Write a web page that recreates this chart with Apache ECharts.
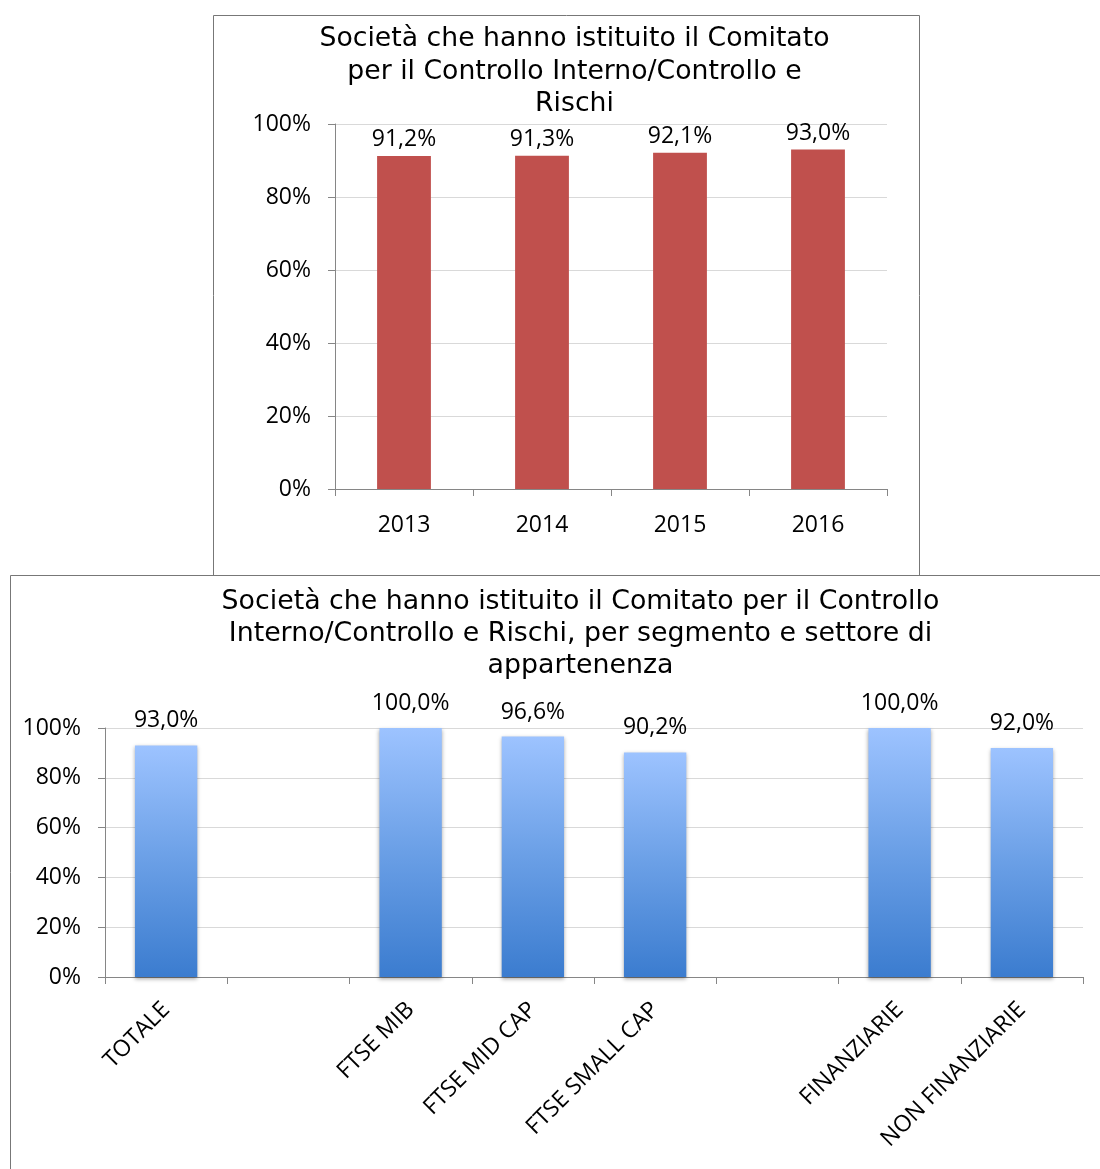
<!DOCTYPE html>
<html><head><meta charset="utf-8">
<script src="https://cdn.jsdelivr.net/npm/echarts@6/dist/echarts.min.js"></script>
<style>html,body{margin:0;padding:0;background:#fff}#c{width:1100px;height:1169px}</style>
</head><body><div id="c"></div>
<script>
const titleTop = 'Società che hanno istituito il Comitato\nper il Controllo Interno/Controllo e\nRischi';
const titleBottom = 'Società che hanno istituito il Comitato per il Controllo\nInterno/Controllo e Rischi, per segmento e settore di\nappartenenza';
const years = ['2013', '2014', '2015', '2016'];
const yearValues = [91.2, 91.3, 92.1, 93.0];
const segments = ['TOTALE', '', 'FTSE MIB', 'FTSE MID CAP', 'FTSE SMALL CAP', '', 'FINANZIARIE', 'NON FINANZIARIE'];
const segmentValues = [93.0, null, 100.0, 96.6, 90.2, null, 100.0, 92.0];
const yTicks = [0, 20, 40, 60, 80, 100];

const LBL = 'Open Sans';
const fmtPct = v => v.toFixed(1).replace('.', ',') + '%';
const axisGray = '#868686';

const chart = echarts.init(document.getElementById('c'), null, {renderer: 'canvas'});
const yAxisBase = {
  type: 'value', min: 0, max: 100, interval: 20,
  axisLine: {show: true, lineStyle: {color: axisGray}},
  axisTick: {show: true, length: 7, lineStyle: {color: axisGray}},
  splitLine: {show: true, lineStyle: {color: '#d9d9d9'}},
  axisLabel: {formatter: v => v + '%', fontFamily: LBL, fontSize: 23, color: '#000', margin: 24}
};
chart.setOption({
  animation: false,
  graphic: [
    {type: 'rect', shape: {x: 213.5, y: 15.5, width: 706, height: 560}, style: {fill: 'none', stroke: '#777', lineWidth: 1}, z: -1},
    {type: 'rect', shape: {x: 10.5, y: 575.5, width: 1100, height: 600}, style: {fill: 'none', stroke: '#777', lineWidth: 1}, z: -1},
    {type: 'text', x: 574.5, y: 23, style: {text: titleTop, align: 'center', verticalAlign: 'top',
      font: 'normal 26.7px "DejaVu Sans"', fill: '#000', lineHeight: 32.5}},
    {type: 'text', x: 580.5, y: 586, style: {text: titleBottom, align: 'center', verticalAlign: 'top',
      font: 'normal 26.8px "DejaVu Sans"', fill: '#000', lineHeight: 32}}
  ],
  grid: [
    {left: 335, right: 213, top: 124, bottom: 680},
    {left: 105, right: 17, top: 728, bottom: 192}
  ],
  xAxis: [
    {type: 'category', gridIndex: 0, data: years,
     axisLine: {lineStyle: {color: axisGray}},
     axisTick: {show: true, length: 7, lineStyle: {color: axisGray}},
     axisLabel: {fontFamily: LBL, fontSize: 23, color: '#000', margin: 25}},
    {type: 'category', gridIndex: 1, data: segments,
     axisLine: {lineStyle: {color: axisGray}},
     axisTick: {show: true, length: 7, interval: 0, lineStyle: {color: axisGray}},
     axisLabel: {fontFamily: LBL, fontSize: 23, color: '#000', margin: 29, rotate: 45, interval: 0}}
  ],
  yAxis: [
    Object.assign({gridIndex: 0}, yAxisBase),
    Object.assign({gridIndex: 1}, yAxisBase)
  ],
  series: [
    {type: 'bar', xAxisIndex: 0, yAxisIndex: 0, data: yearValues, barWidth: '39%',
     itemStyle: {color: '#C0504D'},
     label: {show: true, position: 'top', distance: 5, formatter: p => fmtPct(p.value),
             fontFamily: LBL, fontSize: 23, color: '#000'}},
    {type: 'bar', xAxisIndex: 1, yAxisIndex: 1, data: segmentValues, barWidth: '51%',
     itemStyle: {
       color: new echarts.graphic.LinearGradient(0, 0, 0, 1, [
         {offset: 0, color: '#9DC3FF'}, {offset: 0.5, color: '#6A9FE6'}, {offset: 1, color: '#3B7CCF'}]),
       shadowColor: 'rgba(0,0,0,0.35)', shadowBlur: 4, shadowOffsetY: 2
     },
     label: {show: true, position: 'top', distance: 13, formatter: p => p.value == null ? '' : fmtPct(p.value),
             fontFamily: LBL, fontSize: 23, color: '#000'}}
  ]
});
</script></body></html>
